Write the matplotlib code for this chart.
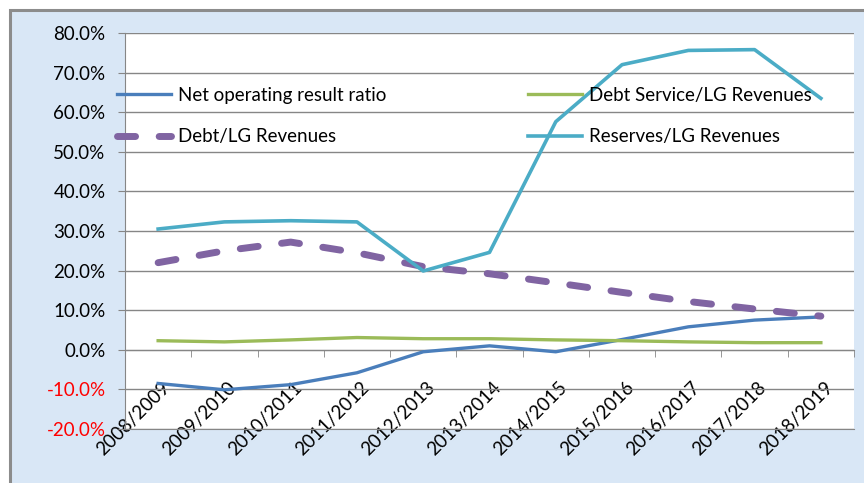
import matplotlib.pyplot as plt
from matplotlib.patches import Rectangle
from matplotlib.transforms import ScaledTranslation

years = ['2008/2009', '2009/2010', '2010/2011', '2011/2012', '2012/2013', '2013/2014',
         '2014/2015', '2015/2016', '2016/2017', '2017/2018', '2018/2019']
net_operating = [-8.5, -10.1, -8.8, -5.8, -0.5, 1.0, -0.5, 2.6, 5.8, 7.5, 8.3]
debt_service = [2.3, 2.0, 2.5, 3.1, 2.8, 2.8, 2.5, 2.3, 2.0, 1.8, 1.8]
debt_lg = [22.0, 25.0, 27.2, 24.5, 21.0, 19.2, 16.9, 14.5, 12.2, 10.3, 8.5]
reserves = [30.5, 32.3, 32.6, 32.3, 19.9, 24.6, 57.6, 72.0, 75.6, 75.8, 63.5]

plt.rcParams['font.family'] = ['Lato', 'DejaVu Sans']
plt.rcParams['font.size'] = 13.5

fig = plt.figure(figsize=(8.64, 4.83), dpi=100, facecolor='white')
# light blue background panel with grey border on top/left
fig.patches.append(Rectangle((10 / 864, -0.05), 1.1, 1 - 10 / 483 + 0.05,
                             transform=fig.transFigure, facecolor='#d9e7f6',
                             edgecolor='#8c8c8c', linewidth=2.2, zorder=-10))

ax = fig.add_axes([125 / 864, 1 - 429 / 483, (854 - 125) / 864, (429 - 33) / 483])
ax.set_facecolor('white')

x = list(range(len(years)))
l1, = ax.plot(x, net_operating, color='#4a7ebb', lw=2.4, label='Net operating result ratio')
l2, = ax.plot(x, debt_service, color='#9bbb59', lw=2.4, label='Debt Service/LG Revenues')
l3, = ax.plot(x, debt_lg, color='#8064a2', lw=5, dashes=(2.6, 3.4), dash_capstyle='round',
              label='Debt/LG Revenues')
l4, = ax.plot(x, reserves, color='#4bacc6', lw=2.6, label='Reserves/LG Revenues')

ax.set_xlim(-0.5, 10.5)
ax.set_ylim(-20, 80)
yt = list(range(-20, 90, 10))
ax.set_yticks(yt)
ax.set_yticklabels(['%.1f%%' % v for v in yt])
for t, v in zip(ax.get_yticklabels(), yt):
    t.set_color('red' if v < 0 else 'black')
ax.tick_params(axis='y', length=5, color='#868686', pad=9)
ax.set_xticks([])
ax.grid(axis='y', color='#868686', lw=1)
ax.set_axisbelow(True)
for s in ['top', 'right']:
    ax.spines[s].set_visible(False)
ax.spines['left'].set_color('#868686')
ax.spines['bottom'].set_color('#868686')

# category axis crossing at 0%
sec = ax.secondary_xaxis(0.2)
sec.set_xticks(x, labels=years)
sec.set_xticks([i - 0.5 for i in range(1, len(years) + 1)], minor=True)
sec.tick_params(which='major', length=0, pad=25)
sec.tick_params(which='minor', length=5, color='#868686')
sec.spines['bottom'].set_color('#868686')
off = ScaledTranslation(0.09, 0, fig.dpi_scale_trans)
for t in sec.get_xticklabels():
    t.set_rotation(45)
    t.set_ha('right')
    t.set_va('center')
    t.set_rotation_mode('anchor')
    t.set_transform(t.get_transform() + off)

fig.legend(handles=[l1, l3, l2, l4], ncol=2, frameon=False, loc='upper left',
           bbox_to_anchor=(117 / 864, 1 - 87 / 483), borderpad=0, borderaxespad=0,
           handlelength=2.9, handletextpad=0.35, columnspacing=7.55, labelspacing=1.3)

fig.savefig('out.png', dpi=100, facecolor=fig.get_facecolor())
